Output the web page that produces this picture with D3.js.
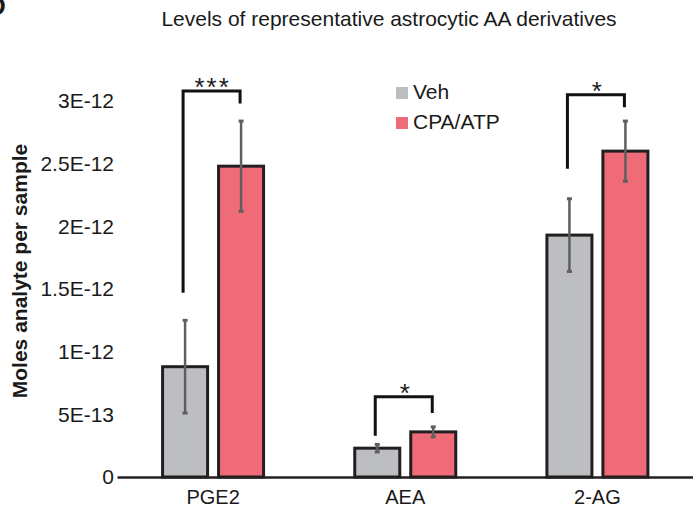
<!DOCTYPE html>
<html>
<head>
<meta charset="utf-8">
<script src="https://cdn.jsdelivr.net/npm/d3@7"></script>
<style>
    body { margin: 0; background: #fff; }
    text { font-family: 'Liberation Sans', Arial, sans-serif; fill: #1a1a1a; }
    .axis text { font-size: 20px; }
    .yaxis text { font-size: 21px; }
    .title { font-size: 21px; }
    .ylabel { font-size: 21px; font-weight: bold; }
    .legend-item { font-size: 21px; }
    .star { font-size: 26px; }
</style>
</head>
<body>
<div id="container"></div>
<script>
'use strict';

//Data
const categories = ['PGE2', 'AEA', '2-AG'];
const groups = ['Veh', 'CPA/ATP'];
const vehMean = [0.88e-12, 0.23e-12, 1.93e-12];
const vehErr = [0.37e-12, 0.03e-12, 0.29e-12];
const cpaMean = [2.48e-12, 0.36e-12, 2.60e-12];
const cpaErr = [0.36e-12, 0.04e-12, 0.24e-12];
const yTicks = [0, 0.5e-12, 1e-12, 1.5e-12, 2e-12, 2.5e-12, 3e-12];
const yTickLabels = ['0', '5E-13', '1E-12', '1.5E-12', '2E-12', '2.5E-12', '3E-12'];
const sigLabels = ['***', '*', '*'];
const bracketTop = [3.08e-12, 0.64e-12, 3.05e-12];
const legLeftEnd = [1.47e-12, 0.33e-12, 2.46e-12];
const legRightEnd = [2.98e-12, 0.51e-12, 2.95e-12];

//Sizing
const VIZ = {
    WIDTH: 693,
    HEIGHT: 511,
    LEFT: 117,
    RIGHT: 693.5,
    TOP: 101,
    BOTTOM: 477,
};
const COLORS = {
    'Veh': '#bdbec2',
    'CPA/ATP': '#ef6b78',
};

//Canvas
const svg = d3.select('#container')
    .append('svg')
    .attr('width', VIZ.WIDTH)
    .attr('height', VIZ.HEIGHT)
    .attr('viewBox', `0 0 ${VIZ.WIDTH} ${VIZ.HEIGHT}`);

//Scales
const x = d3.scaleBand()
    .domain(categories)
    .range([VIZ.LEFT, VIZ.RIGHT]);
const xSub = d3.scaleBand()
    .domain(groups)
    .range([-50.5, 50.5])
    .paddingInner(0.196);
const y = d3.scaleLinear()
    .domain([0, 3e-12])
    .range([VIZ.BOTTOM, VIZ.TOP]);

const rows = categories.map((cat, i) => [
    {cat, group: 'Veh', mean: vehMean[i], err: vehErr[i]},
    {cat, group: 'CPA/ATP', mean: cpaMean[i], err: cpaErr[i]},
]).flat();

const center = d => x(d.cat) + x.bandwidth() / 2 + xSub(d.group) + xSub.bandwidth() / 2;

//Panel letter (cut off at the edge, as in the source figure)
svg.append('text')
    .attr('x', -13)
    .attr('y', 15)
    .style('font-size', '26px')
    .style('font-weight', 'bold')
    .text('D');

//Title
svg.append('text')
    .attr('class', 'title')
    .attr('x', 389)
    .attr('y', 26)
    .attr('text-anchor', 'middle')
    .text('Levels of representative astrocytic AA derivatives');

//Y axis (labels only)
const yAxis = d3.axisLeft(y)
    .tickValues(yTicks)
    .tickFormat((d, i) => yTickLabels[i])
    .tickSize(0)
    .tickPadding(3);
svg.append('g')
    .attr('class', 'axis yaxis')
    .attr('transform', `translate(${VIZ.LEFT},0)`)
    .call(yAxis)
    .call(g => g.select('.domain').remove());

svg.append('text')
    .attr('class', 'ylabel')
    .attr('transform', 'translate(27,271) rotate(-90)')
    .attr('text-anchor', 'middle')
    .text('Moles analyte per sample');

//Bars
svg.append('g')
    .selectAll('rect')
    .data(rows)
    .join('rect')
    .attr('x', d => x(d.cat) + x.bandwidth() / 2 + xSub(d.group))
    .attr('y', d => y(d.mean))
    .attr('width', xSub.bandwidth())
    .attr('height', d => y(0) - y(d.mean))
    .attr('fill', d => COLORS[d.group])
    .attr('stroke', '#231f20')
    .attr('stroke-width', 3);

//Error bars
const err = svg.append('g')
    .attr('stroke', '#5f5f5f')
    .attr('stroke-width', 2.5);
err.selectAll('line.err')
    .data(rows)
    .join('line')
    .attr('class', 'err')
    .attr('x1', center)
    .attr('x2', center)
    .attr('y1', d => y(d.mean + d.err))
    .attr('y2', d => y(d.mean - d.err));
[1, -1].forEach((sign, k) => {
    err.selectAll(`line.cap-${k}`)
        .data(rows)
        .join('line')
        .attr('class', `cap-${k}`)
        .attr('x1', d => center(d) - 2.5)
        .attr('x2', d => center(d) + 2.5)
        .attr('y1', d => y(d.mean + sign * d.err))
        .attr('y2', d => y(d.mean + sign * d.err))
        .attr('stroke-width', 3);
});

//X axis
const xAxis = d3.axisBottom(x)
    .tickSize(0)
    .tickPadding(13);
svg.append('g')
    .attr('class', 'axis')
    .attr('transform', `translate(0,${VIZ.BOTTOM})`)
    .call(xAxis)
    .call(g => g.select('.domain')
        .attr('stroke', '#231f20')
        .attr('stroke-width', 2.5));

//Significance brackets
categories.forEach((cat, i) => {
    const xl = center({cat, group: 'Veh'}) - 2;
    const xr = center({cat, group: 'CPA/ATP'}) - 1;
    svg.append('path')
        .attr('d', `M${xl},${y(legLeftEnd[i])}V${y(bracketTop[i])}H${xr}V${y(legRightEnd[i])}`)
        .attr('fill', 'none')
        .attr('stroke', '#111')
        .attr('stroke-width', 3);
    svg.append('text')
        .attr('class', 'star')
        .attr('x', (xl + xr) / 2 + 1)
        .attr('y', y(bracketTop[i]) + 5)
        .attr('text-anchor', 'middle')
        .attr('letter-spacing', sigLabels[i].length > 1 ? 2 : 0)
        .text(sigLabels[i]);
});

//Legend
const legend = svg.append('g')
    .attr('transform', 'translate(396,87)');
groups.forEach((g, i) => {
    const item = legend.append('g')
        .attr('transform', `translate(0,${i * 30})`);
    item.append('rect')
        .attr('width', 12)
        .attr('height', 12)
        .attr('fill', COLORS[g]);
    item.append('text')
        .attr('class', 'legend-item')
        .attr('x', 17)
        .attr('y', 12)
        .text(g);
});
</script>
</body>
</html>
